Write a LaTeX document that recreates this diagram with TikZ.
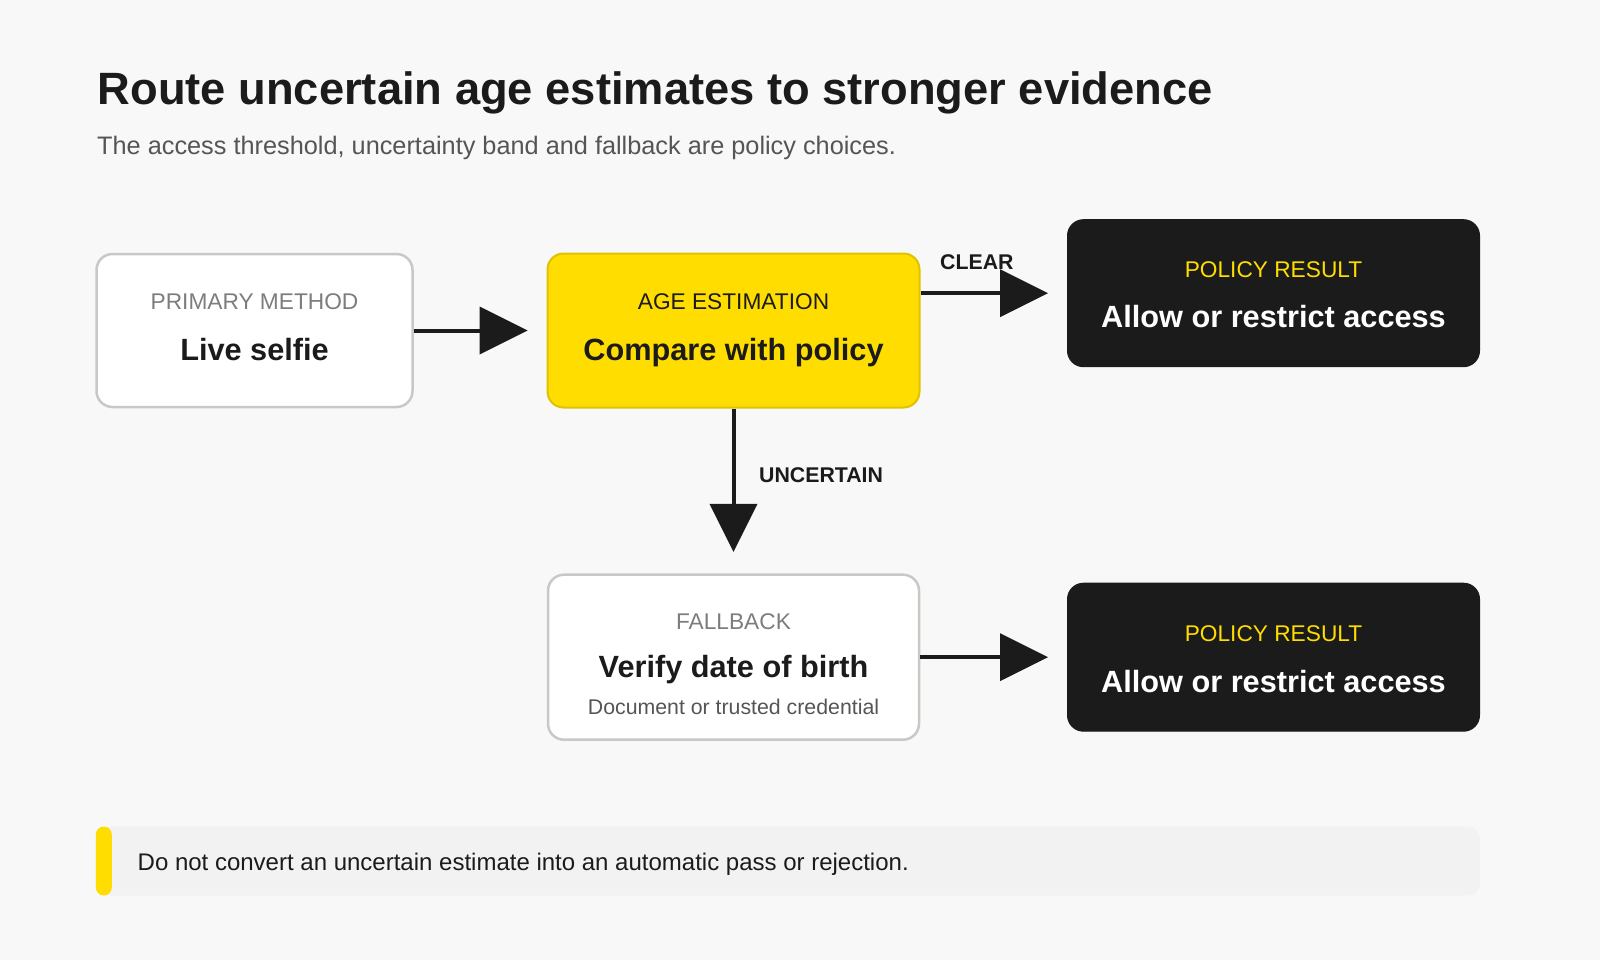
\documentclass[tikz,border=0pt]{standalone}
\usepackage{fontspec}
\setmainfont{Liberation Sans}
\usetikzlibrary{arrows.meta}

\definecolor{pagebg}{HTML}{F8F8F8}
\definecolor{ink}{HTML}{1B1B1B}
\definecolor{gold}{HTML}{FFDD00}
\definecolor{goldedge}{HTML}{E0C200}
\definecolor{rim}{HTML}{C8C8C4}
\definecolor{muted}{HTML}{7D7D7D}
\definecolor{subgray}{HTML}{555555}
\definecolor{notebg}{HTML}{F2F2F2}

\tikzset{
  box/.style={rectangle,rounded corners=16pt,anchor=center,line width=2.5pt},
  plainbox/.style={box,draw=rim,fill=white},
  goldbox/.style={box,draw=goldedge,fill=gold,line width=2pt},
  darkbox/.style={box,draw=ink,fill=ink,line width=1pt},
  txt/.style={inner sep=0pt,anchor=base},
  tag/.style={txt,font=\fontsize{22.7}{27}\selectfont},
  head/.style={txt,font=\fontsize{30.7}{36}\selectfont\bfseries},
  flow/.style={draw=ink,line width=4pt,
    -{Triangle[length=48pt,width=48pt,line width=0pt]}},
  flowlabel/.style={txt,anchor=base west,text=ink,font=\fontsize{21.3}{25}\selectfont\bfseries}
}

\begin{document}
\begin{tikzpicture}[x=1pt,y=-1pt]
\path[fill=pagebg,use as bounding box] (0,0) rectangle (1600,960);

% heading
\node[txt,anchor=base west,text=ink,font=\fontsize{45.3}{54}\selectfont\bfseries] (title) at (97.5,105)
    {Route uncertain age estimates to stronger evidence};
\node[txt,anchor=base west,text=subgray,font=\fontsize{25.3}{30}\selectfont] (subtitle) at (97,154.3)
    {The access threshold, uncertainty band and fallback are policy choices.};

% boxes
\node[plainbox,minimum width=316,minimum height=153] (selfie) at (254.5,330.5) {};
\node[goldbox,minimum width=372,minimum height=154] (estimate) at (733.5,330.5) {};
\node[darkbox,minimum width=412,minimum height=147] (resultTop) at (1273.5,293.2) {};
\node[plainbox,minimum width=371,minimum height=165] (fallback) at (733.5,657.2) {};
\node[darkbox,minimum width=412,minimum height=148] (resultBot) at (1273.5,657.2) {};

% box texts
\node[tag,text=muted] (selfieTag) at (254.5,309.3) {PRIMARY METHOD};
\node[head,text=ink] (selfieHead) at (254.5,360) {Live selfie};

\node[tag,text=ink] (estimateTag) at (733.5,309.3) {AGE ESTIMATION};
\node[head,text=ink] (estimateHead) at (733.5,360) {Compare with policy};

\node[tag,text=gold] (resultTopTag) at (1273.5,277.3) {POLICY RESULT};
\node[head,text=white] (resultTopHead) at (1273.5,327.7) {Allow or restrict access};

\node[tag,text=muted] (fallbackTag) at (733.5,629.3) {FALLBACK};
\node[head,text=ink] (fallbackHead) at (733.5,677.7) {Verify date of birth};
\node[txt,text=subgray,font=\fontsize{21.3}{25}\selectfont] (fallbackSub) at (733.5,714.3)
    {Document or trusted credential};

\node[tag,text=gold] (resultBotTag) at (1273.5,641.7) {POLICY RESULT};
\node[head,text=white] (resultBotHead) at (1273.5,692.3) {Allow or restrict access};

% connectors
\draw[flow,shorten >=19pt] (selfie) -- (estimate);
\draw[flow,shorten >=19pt] (estimate.east |- resultTop.west) -- (resultTop.west);
\draw[flow,shorten >=21.5pt] (estimate.south) -- (fallback.north);
\draw[flow,shorten >=19pt] (fallback.east) -- (fallback.east -| resultBot.west);

\node[flowlabel] (clear) at (940,269.3) {CLEAR};
\node[flowlabel] (uncertain) at (759,482.7) {UNCERTAIN};

% note
\node[rectangle,rounded corners=12pt,fill=notebg,minimum width=1384,minimum height=69,inner sep=0pt]
    (note) at (788,861.2) {};
\fill[gold,rounded corners=8pt] (note.north west) rectangle ++(16,69);
\node[txt,anchor=base west,text=ink,font=\fontsize{24}{28}\selectfont] (noteText) at (137.5,870)
    {Do not convert an uncertain estimate into an automatic pass or rejection.};
\end{tikzpicture}
\end{document}
